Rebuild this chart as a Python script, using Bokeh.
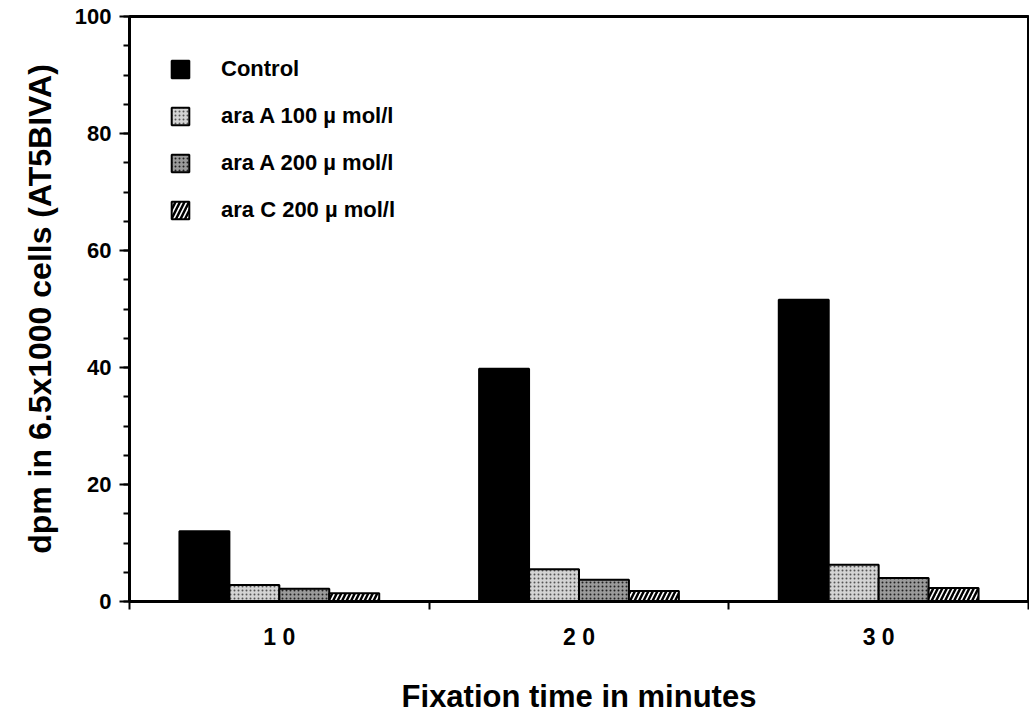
from bokeh.plotting import figure
from bokeh.models import ColumnDataSource, Range1d, FixedTicker, SingleIntervalTicker, Legend
from bokeh.transform import dodge
from bokeh.embed import file_html
from bokeh.resources import INLINE
import numpy as np

# ---- data ----
categories = ["1 0", "2 0", "3 0"]          # fixation time (minutes)
control = [12.0, 39.8, 51.6]
ara_a_100 = [2.8, 5.5, 6.3]
ara_a_200 = [2.2, 3.7, 4.0]
ara_c_200 = [1.4, 1.8, 2.3]
series_names = ["Control", "ara A 100 \u00b5 mol/l", "ara A 200 \u00b5 mol/l", "ara C 200 \u00b5 mol/l"]

FONT = "Liberation Sans"

centers = list(np.arange(len(categories)) + 0.5)
src = ColumnDataSource(dict(x=centers, c=control, a1=ara_a_100, a2=ara_a_200, ac=ara_c_200))

p = figure(width=1029, height=718, output_backend="svg", toolbar_location=None,
           x_range=Range1d(0, 3), y_range=Range1d(0, 100),
           min_border_left=129, min_border_top=16, min_border_bottom=117, min_border_right=1)

bw = 1 / 6
styles = [
    dict(field="c", off=-0.25, fill_color="black"),
    dict(field="a1", off=-1 / 12, fill_color="#d4d4d4", hatch_pattern="dot", hatch_color="#555555", hatch_scale=4, hatch_weight=1),
    dict(field="a2", off=1 / 12, fill_color="#9a9a9a", hatch_pattern="dot", hatch_color="#202020", hatch_scale=4, hatch_weight=1),
    dict(field="ac", off=0.25, fill_color="white", hatch_pattern="right_diagonal_line", hatch_color="black", hatch_scale=9, hatch_weight=2.5),
]
items = []
for st, name in zip(styles, series_names):
    kw = {k: v for k, v in st.items() if k not in ("field", "off")}
    r = p.vbar(x=dodge("x", st["off"], range=p.x_range), top=st["field"], width=bw, source=src,
               line_color="black", line_width=2, **kw)
    items.append((name, [r]))

legend = Legend(items=items, location="top_left", glyph_width=22, glyph_height=22,
                label_standoff=30, spacing=21, border_line_color=None,
                background_fill_alpha=0, label_text_font=FONT, label_text_font_style="bold",
                label_text_font_size="22px", label_text_color="black", padding=0, margin=40)
p.add_layout(legend)

p.grid.visible = False
p.outline_line_color = "black"
p.outline_line_width = 3

# y axis
p.yaxis.ticker = SingleIntervalTicker(interval=20, num_minor_ticks=4)
p.yaxis.major_tick_out = 10
p.yaxis.major_tick_in = 0
p.yaxis.minor_tick_out = 6
p.yaxis.minor_tick_in = 0
p.yaxis.axis_line_width = 2
p.yaxis.major_tick_line_width = 2
p.yaxis.minor_tick_line_width = 2
p.yaxis.major_label_standoff = 8
p.yaxis.major_label_text_font = FONT
p.yaxis.major_label_text_font_style = "bold"
p.yaxis.major_label_text_font_size = "22px"
p.yaxis.major_label_text_color = "black"
p.yaxis.axis_label = "dpm in 6.5x1000 cells (AT5BIVA)"
p.yaxis.axis_label_text_font = FONT
p.yaxis.axis_label_text_font_style = "bold"
p.yaxis.axis_label_text_font_size = "32px"
p.yaxis.axis_label_text_color = "black"
p.yaxis.axis_label_standoff = 14

# x axis
p.xaxis.ticker = FixedTicker(ticks=centers, minor_ticks=[0, 1, 2, 3])
p.xaxis.major_label_overrides = {c: lab for c, lab in zip(centers, categories)}
p.xaxis.major_tick_out = 0
p.xaxis.major_tick_in = 0
p.xaxis.minor_tick_out = 8
p.xaxis.minor_tick_in = 0
p.xaxis.minor_tick_line_width = 2
p.xaxis.axis_line_width = 3
p.xaxis.major_label_standoff = 14
p.xaxis.major_label_text_font = FONT
p.xaxis.major_label_text_font_style = "bold"
p.xaxis.major_label_text_font_size = "23px"
p.xaxis.major_label_text_color = "black"
p.xaxis.axis_label = "Fixation time in minutes"
p.xaxis.axis_label_text_font = FONT
p.xaxis.axis_label_text_font_style = "bold"
p.xaxis.axis_label_text_font_size = "31px"
p.xaxis.axis_label_text_color = "black"
p.xaxis.axis_label_standoff = 26

open("out.html", "w").write(file_html(p, INLINE))
